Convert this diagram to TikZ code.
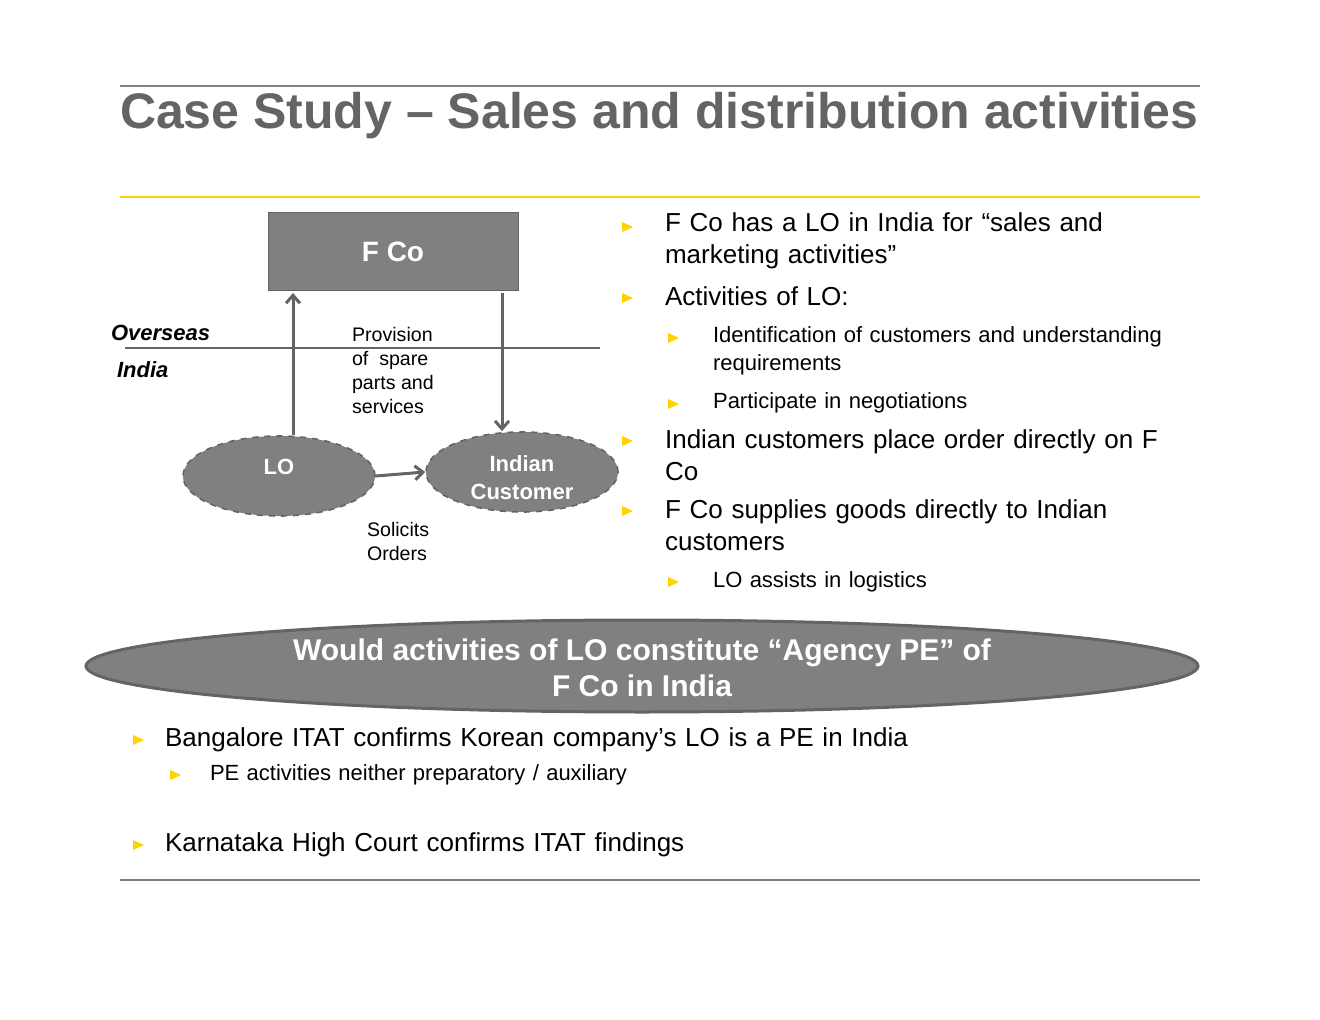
\documentclass[tikz,border=0pt]{standalone}
\usepackage{fontspec}
\setmainfont{Liberation Sans}
\usetikzlibrary{shapes.geometric,arrows.meta}
\definecolor{gtxt}{HTML}{646464}
\definecolor{ybul}{HTML}{FFD200}
\definecolor{boxg}{HTML}{808080}
\hyphenpenalty=10000
\exhyphenpenalty=10000
\begin{document}
\begin{tikzpicture}[x=0.5pt,y=-0.5pt,
  bul/.pic={\fill[ybul] (-5,-5) -- (6,0) -- (-5,5) -- cycle;},
  t1/.style={anchor=west,align=left,font=\fontsize{13}{16}\selectfont,text width=#1},
  t2/.style={anchor=west,align=left,font=\fontsize{11}{14}\selectfont,text width=#1},
  lab/.style={anchor=west,align=left,font=\fontsize{9.8}{12}\selectfont},
  ell/.style={ellipse,draw=gtxt,dashed,fill=boxg,line width=0.8pt,text=white,font=\bfseries\fontsize{11}{14}\selectfont,align=center},
  arr/.style={draw=gtxt,line width=1.5pt,-{Straight Barb[length=4pt,width=7pt]}}]
\useasboundingbox (0,0) rectangle (1320,1020);
\draw[gray,line width=0.6pt] (120,86) -- (1200,86);
\node[anchor=west,text=gtxt,font=\bfseries\fontsize{25}{30}\selectfont] (title) at (113,116) {Case Study – Sales and distribution activities};
\draw[ybul,line width=1.3pt] (120,197) -- (1200,197);
\draw[gray,line width=0.6pt] (120,880) -- (1200,880);
% diagram
\node[draw=gtxt,fill=boxg,minimum width=125pt,minimum height=39pt,text=white,font=\bfseries\fontsize{14}{14}\selectfont] (fco) at (393,251.5) {F Co};
\draw[gtxt,line width=1.2pt] (125,348) -- (600,348);
\node[anchor=west,font=\bfseries\itshape\fontsize{11}{12}\selectfont] (ov) at (104,333) {Overseas};
\node[anchor=west,font=\bfseries\itshape\fontsize{11}{12}\selectfont] (in) at (110,370) {India};
\node[ell,minimum width=96pt,minimum height=40pt] (lo) at (279,476) {};
\node[text=white,font=\bfseries\fontsize{11}{14}\selectfont] (lot) at (279,467) {LO};
\node[ell,minimum width=96pt,minimum height=40pt] (ic) at (522,472) {};
\node[text=white,align=center,font=\bfseries\fontsize{11}{14}\selectfont] (ict) at (522,478) {Indian\\Customer};
\coordinate (a1) at (293,293); \coordinate (a2) at (502,293);
\draw[arr] (lo.north -| a1) -- (a1);
\draw[arr] (a2) -- (ic.north -| a2);
\draw[arr] (lo.east) -- (ic.west);
\node[lab,anchor=north west] (prov) at (345,320) {Provision\\of\ \ spare\\parts and\\services};
\node[lab,anchor=north west] (sol) at (360,515) {Solicits\\Orders};
% right bullets
\foreach \y in {227,298,441,511}{\pic at (627,\y) {bul};}
\foreach \y in {338,404,582}{\pic at (673,\y) {bul};}
\node[t1=265pt] (b1) at (658,241) {F Co has a LO in India for “sales and marketing activities”};
\node[t1=265pt] (b2) at (658,296) {Activities of LO:};
\node[t2=245pt] (s1) at (706,351) {Identification of customers and understanding requirements};
\node[t2=245pt] (s2) at (706,403) {Participate in negotiations};
\node[t1=265pt] (b3) at (658,455) {Indian customers place order directly on F Co};
\node[t1=240pt] (b4) at (658,525) {F Co supplies goods directly to Indian customers};
\node[t2=245pt] (s3) at (706,582) {LO assists in logistics};
% big ellipse
\node[ellipse,draw=gtxt,fill=boxg,line width=1.5pt,minimum width=556pt,minimum height=46pt,inner sep=0pt] (q) at (642,666) {};
\node[text=white,align=center,font=\bfseries\fontsize{15}{18}\selectfont] (qt) at (642,668) {Would activities of LO constitute “Agency PE” of\\F Co in India};
% bottom bullets
\pic at (138,740) {bul};
\pic at (175,775) {bul};
\pic at (138,845) {bul};
\node[t1=600pt] (c1) at (158,740) {Bangalore ITAT confirms Korean company’s LO is a PE in India};
\node[t2=500pt] (c2) at (203,775) {PE activities neither preparatory / auxiliary};
\node[t1=600pt] (c3) at (158,845) {Karnataka High Court confirms ITAT findings};
\end{tikzpicture}
\end{document}
